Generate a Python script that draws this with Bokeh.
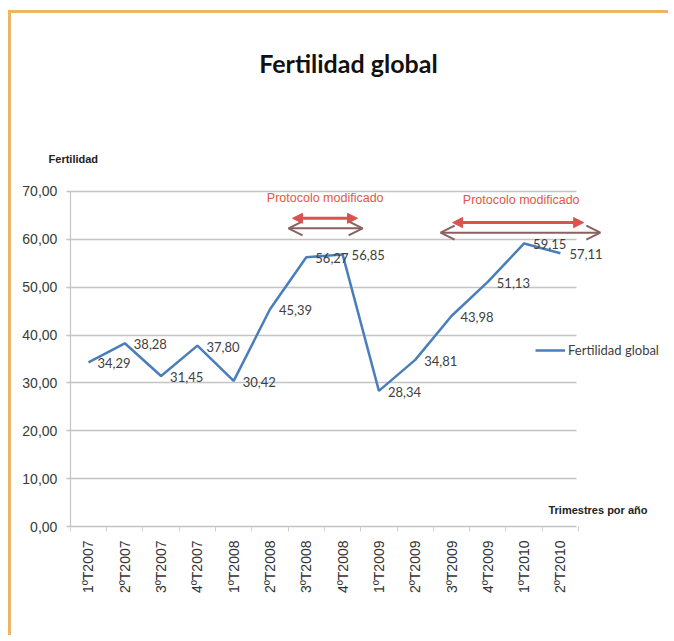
import math
from bokeh.plotting import figure
from bokeh.models import (Range1d, FixedTicker, Label, Legend, LegendItem, Grid,
                          Arrow, NormalHead, OpenHead, ColumnDataSource)
from bokeh.core.properties import value
from bokeh.embed import file_html
from bokeh.resources import INLINE

# ---- data ----
trimestres = ["1ºT2007", "2ºT2007", "3ºT2007", "4ºT2007",
              "1ºT2008", "2ºT2008", "3ºT2008", "4ºT2008",
              "1ºT2009", "2ºT2009", "3ºT2009", "4ºT2009",
              "1ºT2010", "2ºT2010"]
fertilidad = [34.29, 38.28, 31.45, 37.80, 30.42, 45.39, 56.27, 56.85,
              28.34, 34.81, 43.98, 51.13, 59.15, 57.11]
y_ticks = [0, 10, 20, 30, 40, 50, 60, 70]
serie = "Fertilidad global"
titulo = "Fertilidad global"
eje_y = "Fertilidad"
eje_x = "Trimestres por año"
protocolo = "Protocolo modificado"

idx = list(range(len(trimestres)))
limites = [i - 0.5 for i in idx + [len(idx)]]
etiquetas = [f"{v:.2f}".replace(".", ",") for v in fertilidad]
y_etiquetas = [f"{t:.2f}".replace(".", ",") for t in y_ticks]
src = ColumnDataSource(dict(x=idx, y=fertilidad, lab=etiquetas))
ysrc = ColumnDataSource(dict(x=[-0.5] * len(y_ticks), y=y_ticks, lab=y_etiquetas))
xsrc = ColumnDataSource(dict(x=idx, y=[0] * len(idx), lab=trimestres))

W, H = 660, 625
p = figure(width=W, height=H, output_backend="svg", toolbar_location=None,
           x_range=Range1d(-2.121, 16.06), y_range=Range1d(-23.40, 107.19),
           x_axis_location=None, y_axis_location=None, title_location=None,
           min_border_left=0, min_border_top=0, min_border_right=0, min_border_bottom=0)
p.styles = {"margin-left": "8px", "margin-top": "10px",
            "border-top": "3px solid #ebb565", "border-left": "3px solid #ebb565"}
p.outline_line_color = None
p.background_fill_color = "white"
p.border_fill_color = "white"
# drop default grids; build our own bounded ones
p.center = [c for c in p.center if not isinstance(c, Grid)]

GRID = "#c4c4c4"
# horizontal grid lines (incl. x axis line at 0, with small outward tick on the left)
p.add_layout(Grid(dimension=1, ticker=FixedTicker(ticks=y_ticks), cross_bounds=(-0.6, 13.45),
                  grid_line_color=GRID, grid_line_width=1.5))
# vertical axis line
p.add_layout(Grid(dimension=0, ticker=FixedTicker(ticks=[-0.5]), cross_bounds=(0, 70),
                  grid_line_color=GRID, grid_line_width=1.2))
# category boundary tick marks under the x axis
p.add_layout(Grid(dimension=0, ticker=FixedTicker(ticks=limites), cross_bounds=(-1.05, 0),
                  grid_line_color="#d0d0d0", grid_line_width=1))

# y tick labels
p.text("x", "y", text="lab", source=ysrc, x_offset=-13, text_align="right",
       text_baseline="middle", text_font=value("Liberation Sans"),
       text_font_size="14px", text_color="#3a3a3a")

# x tick labels (vertical, reading upward)
p.text("x", "y", text="lab", source=xsrc, angle=math.pi / 2, y_offset=14,
       text_align="right", text_baseline="middle", text_font=value("Liberation Sans"),
       text_font_size="14px", text_color="#333333")

# series
r = p.line("x", "y", source=src, line_color="#4a7ebb", line_width=2.5)
p.text("x", "y", text="lab", source=src, x_offset=9, y_offset=1,
       text_baseline="middle", text_align="left",
       text_font=value("Lato"), text_font_size="13px", text_color="#404040")

# title and axis captions
p.add_layout(Label(x=7.16, y=96.9, text=titulo, text_align="center", text_baseline="middle",
                   text_font="Lato", text_font_style="bold", text_font_size="25px",
                   text_color="#111111"))
p.add_layout(Label(x=-1.10, y=76.7, text=eje_y, text_align="left", text_baseline="middle",
                   text_font="Liberation Sans", text_font_style="bold",
                   text_font_size="11px", text_color="#222222"))
p.add_layout(Label(x=12.67, y=3.55, text=eje_x, text_align="left", text_baseline="middle",
                   text_font="Liberation Sans", text_font_style="bold",
                   text_font_size="11px", text_color="#222222"))

# protocol annotations
for cx, x0, x1, sx0, sx1, ty, ay in [(6.52, 5.62, 7.41, 5.51, 7.55, 68.7, 64.4),
                                     (11.92, 10.03, 13.64, 9.70, 14.10, 68.3, 63.5)]:
    p.add_layout(Label(x=cx, y=ty, text=protocolo, text_align="center",
                       text_baseline="middle", text_font="Liberation Sans",
                       text_font_size="12.5px", text_color="#e8553f"))
    p.add_layout(Arrow(x_start=sx0, x_end=sx1, y_start=ay - 2.1, y_end=ay - 2.1,
                       line_color="#8a6060", line_width=2,
                       start=OpenHead(size=14, line_color="#8a6060", line_width=2),
                       end=OpenHead(size=14, line_color="#8a6060", line_width=2)))
    p.add_layout(Arrow(x_start=x0, x_end=x1, y_start=ay, y_end=ay,
                       line_color="#d9534f", line_width=3,
                       start=NormalHead(size=10, fill_color="#d9534f", line_color="#d9534f"),
                       end=NormalHead(size=10, fill_color="#d9534f", line_color="#d9534f")))

# legend
legend = Legend(items=[LegendItem(label=serie, renderers=[r])],
                location=(524, 166 + 112), padding=0, margin=0,
                glyph_width=30, label_standoff=3,
                border_line_color=None, background_fill_alpha=0,
                label_text_font="Lato", label_text_font_size="13px",
                label_text_color="#404040")
p.add_layout(legend)

open("out.html", "w").write(file_html(p, INLINE))
